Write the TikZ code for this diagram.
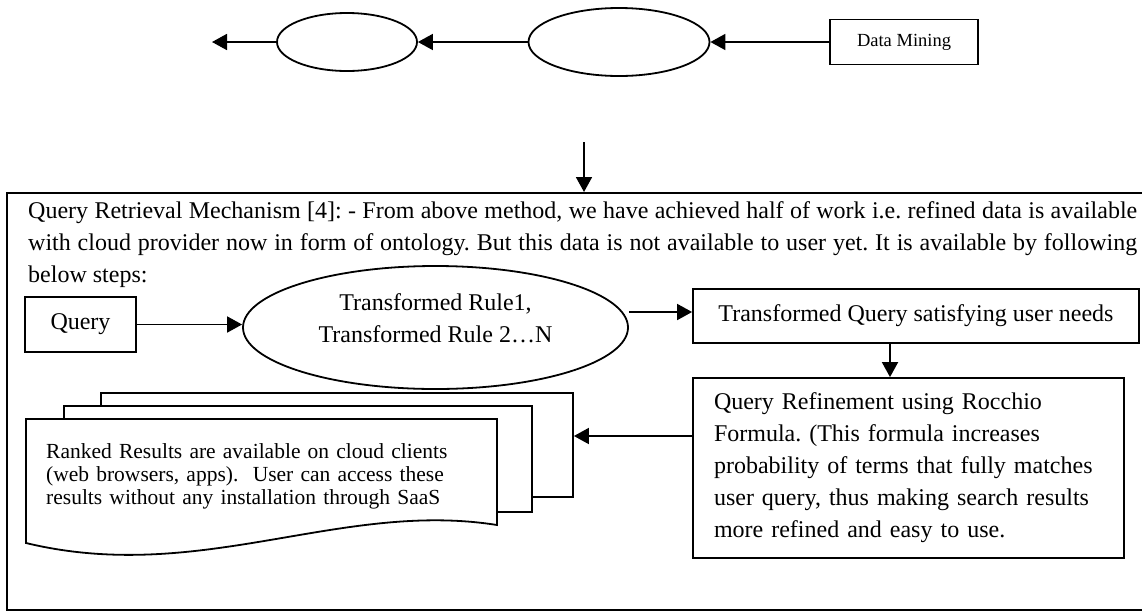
\documentclass[tikz,border=0pt]{standalone}
\usepackage{fontspec}
\setmainfont{Liberation Serif}
\usetikzlibrary{arrows.meta, shapes.geometric}

\tikzset{
  flowbox/.style={draw, line width=1.8pt, inner sep=0pt, align=center},
  flowoval/.style={draw, ellipse, line width=1.8pt, inner sep=0pt, align=center},
  sheet/.style={draw, line width=1.8pt, fill=white, inner sep=0pt},
  flowarrow/.style={line width=1.8pt, -{Triangle[length=15pt, width=16pt]}},
}

\begin{document}
\begin{tikzpicture}[x=1pt, y=-1pt, font=\fontsize{24}{32}\selectfont\frenchspacing]
  \path[fill=white] (0,0) rectangle (1142,611);
  \useasboundingbox (0,0) rectangle (1142,611);

  % top row
  \coordinate (out) at (212,42);
  \node[flowoval, minimum width=140, minimum height=58] (stepA) at (347,42) {};
  \node[flowoval, minimum width=181, minimum height=68] (stepB) at (619,42) {};
  \node[flowbox, minimum width=148, minimum height=45,
        font=\fontsize{18.5}{22}\selectfont] (mining) at (904,42) {Data Mining};
  \draw[flowarrow] (mining) -- (stepB);
  \draw[flowarrow] (stepB) -- (stepA);
  \draw[flowarrow] (stepA) -- (out);

  % retrieval frame
  \node[flowbox, minimum width=1142, minimum height=417, anchor=north west] (mech) at (6,192) {};
  \coordinate (feed) at (584,142);
  \draw[flowarrow] (feed) -- (feed |- mech.north);
  \node[anchor=north west, text width=1109, align=justify, inner sep=0pt] (intro) at (28,201)
    {Query Retrieval Mechanism [4]: - From above method, we have achieved half of work i.e. refined data is available\linebreak
     with cloud provider now in form of ontology. But this data is not available to user yet. It is available by following\linebreak
     below steps:};

  \node[flowbox, minimum width=111, minimum height=55] (query) at (80.5,324.5) {Query};
  \node[flowoval, minimum width=385, minimum height=123] (rule) at (435.5,327.5)
    {Transformed Rule1,\\Transformed Rule 2…N\\[-14pt]};
  \node[flowbox, minimum width=446, minimum height=54] (tquery) at (916,316)
    {Transformed Query satisfying user needs};
  \node[flowbox, minimum width=431, minimum height=180, text width=389, align=left,
        inner xsep=21pt] (refine) at (908.5,468)
    {Query Refinement using Rocchio\\
     Formula. (This formula increases\\
     probability of terms that fully matches\\
     user query, thus making search results\\
     more refined and easy to use.};

  % stacked result sheets
  \node[sheet, minimum width=472, minimum height=104] (sheetc) at (337,445) {};
  \node[sheet, minimum width=468, minimum height=106] (sheetb) at (298,459) {};
  \draw[sheet] (26,419) -- (497,419) -- (497,525)
    .. controls (340,500) and (200,585) .. (26,543) -- cycle;
  \node[anchor=north west, text width=440, align=left, inner sep=0pt,
        font=\fontsize{21.5}{23}\selectfont\frenchspacing] (results) at (46,443)
    {Ranked Results are available on cloud clients\\
     (web browsers, apps).\ \ User can access these\\
     results without any installation through SaaS};

  \draw[flowarrow] (query.east) -- (query.east -| rule.west);
  \draw[flowarrow] ([yshift=4pt]tquery.west -| rule.east) -- ([yshift=4pt]tquery.west);
  \draw[flowarrow] ([xshift=-26pt]tquery.south) -- ([xshift=-26pt]tquery.south |- refine.north);
  \draw[flowarrow] ([yshift=32pt]refine.west) -- ([yshift=32pt]refine.west -| sheetc.east);
\end{tikzpicture}
\end{document}
